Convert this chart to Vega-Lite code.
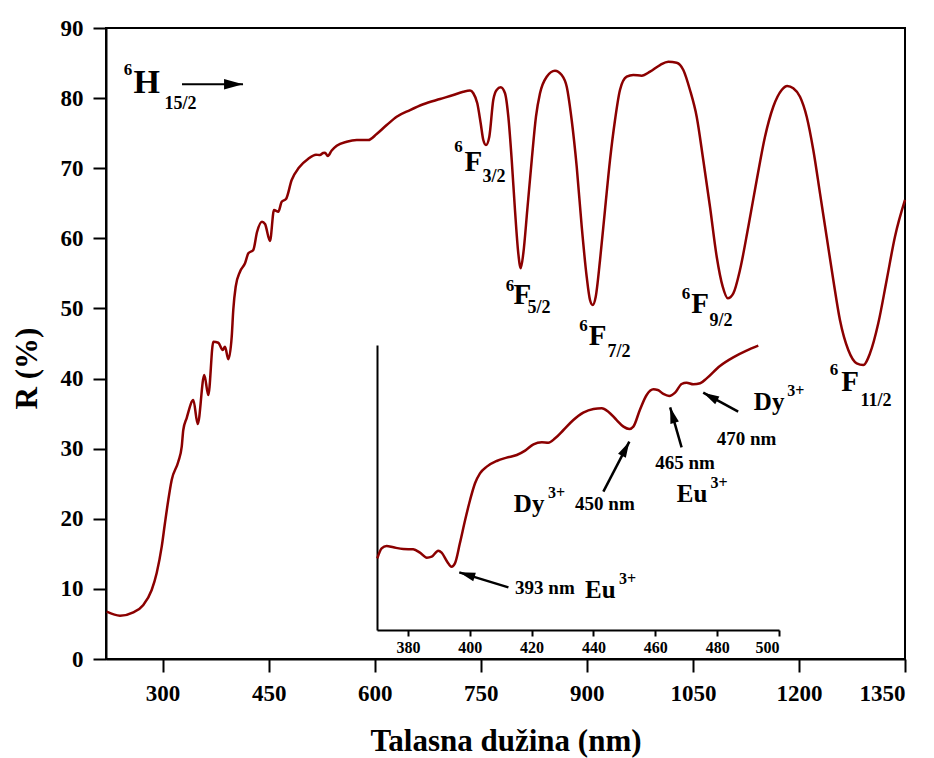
{
  "$schema": "https://vega.github.io/schema/vega-lite/v6.json",
  "width": 799,
  "height": 631,
  "autosize": {"type": "none"},
  "padding": {"left": 106, "top": 28, "right": 29, "bottom": 99},
  "background": "white",
  "config": {
    "font": "'Liberation Serif', 'Times New Roman', serif",
    "view": {"stroke": "black", "strokeWidth": 2},
    "axis": {
      "grid": false,
      "domainColor": "black",
      "domainWidth": 2,
      "tickColor": "black",
      "tickWidth": 2,
      "labelColor": "black",
      "labelFont": "'Liberation Serif', 'Times New Roman', serif",
      "labelFontWeight": "bold",
      "titleFont": "'Liberation Serif', 'Times New Roman', serif",
      "titleFontWeight": "bold",
      "titleColor": "black",
      "format": "d"
    },
    "text": {"font": "'Liberation Serif', 'Times New Roman', serif", "fontWeight": "bold", "color": "black", "align": "center", "baseline": "middle"}
  },
  "datasets": {
    "spectrum": [
      {"wl": 221.0, "r": 6.75}, {"wl": 239.8, "r": 6.18}, {"wl": 258.6, "r": 6.66}, {"wl": 272.8, "r": 7.70},
      {"wl": 284.6, "r": 9.84}, {"wl": 291.7, "r": 12.27}, {"wl": 298.8, "r": 16.02}, {"wl": 303.4, "r": 19.40},
      {"wl": 308.1, "r": 22.68}, {"wl": 312.9, "r": 25.53}, {"wl": 322.2, "r": 28.14}, {"wl": 327.1, "r": 30.28},
      {"wl": 329.3, "r": 32.66}, {"wl": 334.1, "r": 34.37}, {"wl": 343.5, "r": 36.94}, {"wl": 349.7, "r": 33.52},
      {"wl": 359.0, "r": 40.51}, {"wl": 364.7, "r": 37.65}, {"wl": 371.8, "r": 45.26}, {"wl": 378.8, "r": 45.11},
      {"wl": 385.0, "r": 44.07}, {"wl": 388.3, "r": 44.54}, {"wl": 393.0, "r": 42.75}, {"wl": 397.8, "r": 45.97},
      {"wl": 400.0, "r": 49.78}, {"wl": 403.4, "r": 53.10}, {"wl": 409.5, "r": 55.24}, {"wl": 416.6, "r": 56.44},
      {"wl": 421.3, "r": 57.86}, {"wl": 428.3, "r": 58.34}, {"wl": 433.6, "r": 60.90}, {"wl": 440.6, "r": 62.37},
      {"wl": 444.9, "r": 62.04}, {"wl": 451.9, "r": 59.62}, {"wl": 457.6, "r": 64.04}, {"wl": 463.7, "r": 63.80},
      {"wl": 468.5, "r": 65.22}, {"wl": 474.6, "r": 65.61}, {"wl": 482.6, "r": 68.32}, {"wl": 493.0, "r": 70.10},
      {"wl": 505.7, "r": 71.31}, {"wl": 517.0, "r": 71.93}, {"wl": 522.6, "r": 71.88}, {"wl": 526.9, "r": 72.17},
      {"wl": 529.7, "r": 72.21}, {"wl": 533.7, "r": 71.74}, {"wl": 539.2, "r": 72.53}, {"wl": 546.3, "r": 73.21},
      {"wl": 560.4, "r": 73.78}, {"wl": 574.6, "r": 74.02}, {"wl": 591.0, "r": 74.02}, {"wl": 602.8, "r": 74.88},
      {"wl": 617.0, "r": 76.16}, {"wl": 631.1, "r": 77.35}, {"wl": 650.0, "r": 78.30}, {"wl": 668.7, "r": 79.12},
      {"wl": 692.4, "r": 79.87}, {"wl": 711.2, "r": 80.44}, {"wl": 725.3, "r": 80.91}, {"wl": 734.8, "r": 81.08},
      {"wl": 739.5, "r": 80.69}, {"wl": 745.1, "r": 79.26}, {"wl": 749.9, "r": 76.41}, {"wl": 753.6, "r": 74.02},
      {"wl": 757.4, "r": 73.31}, {"wl": 762.1, "r": 74.50}, {"wl": 767.7, "r": 79.73}, {"wl": 772.5, "r": 81.16},
      {"wl": 778.2, "r": 81.54}, {"wl": 784.3, "r": 80.69}, {"wl": 789.0, "r": 77.35}, {"wl": 793.8, "r": 71.17},
      {"wl": 798.4, "r": 64.04}, {"wl": 803.1, "r": 57.86}, {"wl": 806.5, "r": 55.73}, {"wl": 810.2, "r": 57.86},
      {"wl": 815.8, "r": 64.04}, {"wl": 822.1, "r": 71.17}, {"wl": 828.1, "r": 77.35}, {"wl": 833.8, "r": 80.69},
      {"wl": 843.3, "r": 83.05}, {"wl": 855.0, "r": 83.91}, {"wl": 864.5, "r": 83.30}, {"wl": 871.6, "r": 81.63},
      {"wl": 878.6, "r": 76.88}, {"wl": 885.7, "r": 70.22}, {"wl": 892.8, "r": 61.66}, {"wl": 899.8, "r": 54.53},
      {"wl": 904.5, "r": 51.20}, {"wl": 908.3, "r": 50.49}, {"wl": 912.6, "r": 51.68}, {"wl": 918.7, "r": 56.91},
      {"wl": 925.7, "r": 64.04}, {"wl": 932.8, "r": 71.17}, {"wl": 939.9, "r": 76.88}, {"wl": 946.9, "r": 81.16},
      {"wl": 956.4, "r": 83.05}, {"wl": 965.7, "r": 83.30}, {"wl": 977.6, "r": 83.20}, {"wl": 989.4, "r": 83.77},
      {"wl": 1003.5, "r": 84.72}, {"wl": 1015.2, "r": 85.19}, {"wl": 1027.1, "r": 85.05}, {"wl": 1036.5, "r": 84.01},
      {"wl": 1045.9, "r": 81.16}, {"wl": 1055.4, "r": 77.35}, {"wl": 1064.7, "r": 71.17}, {"wl": 1074.2, "r": 64.51},
      {"wl": 1083.7, "r": 57.38}, {"wl": 1092.2, "r": 53.10}, {"wl": 1099.3, "r": 51.45}, {"wl": 1107.2, "r": 52.16},
      {"wl": 1116.6, "r": 55.48}, {"wl": 1128.4, "r": 61.66}, {"wl": 1140.3, "r": 68.32}, {"wl": 1152.0, "r": 74.50},
      {"wl": 1163.7, "r": 78.77}, {"wl": 1175.6, "r": 81.16}, {"wl": 1183.5, "r": 81.73}, {"wl": 1192.0, "r": 81.40},
      {"wl": 1201.5, "r": 80.20}, {"wl": 1211.0, "r": 77.35}, {"wl": 1220.3, "r": 72.60}, {"wl": 1229.8, "r": 66.42},
      {"wl": 1239.2, "r": 60.23}, {"wl": 1248.6, "r": 54.06}, {"wl": 1258.0, "r": 48.35}, {"wl": 1269.8, "r": 44.07},
      {"wl": 1281.7, "r": 42.17}, {"wl": 1291.0, "r": 41.93}, {"wl": 1300.5, "r": 43.60}, {"wl": 1312.2, "r": 47.88},
      {"wl": 1324.1, "r": 54.06}, {"wl": 1335.8, "r": 60.23}, {"wl": 1350.0, "r": 65.47}
    ],
    "levelLabels": [
      {"label": "6", "wl": 251.1, "r": 84.0, "role": "sup"},
      {"label": "H", "wl": 277.6, "r": 82.1, "role": "big"},
      {"label": "15/2", "wl": 325.4, "r": 79.2, "role": "sub"},
      {"label": "6", "wl": 718.5, "r": 72.96, "role": "sup"},
      {"label": "F", "wl": 739.7, "r": 70.82, "role": "base"},
      {"label": "3/2", "wl": 768.7, "r": 68.68, "role": "sub"},
      {"label": "6", "wl": 791.4, "r": 53.2, "role": "sup"},
      {"label": "F", "wl": 809.0, "r": 51.92, "role": "base"},
      {"label": "5/2", "wl": 832.4, "r": 50.06, "role": "sub"},
      {"label": "6", "wl": 895.3, "r": 47.5, "role": "sup"},
      {"label": "F", "wl": 915.1, "r": 46.07, "role": "base"},
      {"label": "7/2", "wl": 945.5, "r": 43.72, "role": "sub"},
      {"label": "6", "wl": 1040.3, "r": 52.06, "role": "sup"},
      {"label": "F", "wl": 1060.2, "r": 50.63, "role": "base"},
      {"label": "9/2", "wl": 1089.9, "r": 48.21, "role": "sub"},
      {"label": "6", "wl": 1249.6, "r": 41.22, "role": "sup"},
      {"label": "F", "wl": 1272.2, "r": 39.44, "role": "base"},
      {"label": "11/2", "wl": 1309.0, "r": 36.8, "role": "sub"}
    ],
    "mainArrow": [
      {"id": "h152", "wl": 413.8, "r": 81.97, "wl2": 327.5, "r2": 81.97}
    ],
    "insetSpectrum": [
      {"wl": 370.1, "r": 43.55}, {"wl": 371.5, "r": 44.74}, {"wl": 373.1, "r": 45.02}, {"wl": 375.3, "r": 44.86},
      {"wl": 378.5, "r": 44.66}, {"wl": 381.7, "r": 44.62}, {"wl": 383.9, "r": 44.23}, {"wl": 386.1, "r": 43.63},
      {"wl": 387.7, "r": 43.75}, {"wl": 389.8, "r": 44.46}, {"wl": 390.9, "r": 44.23}, {"wl": 392.7, "r": 43.15},
      {"wl": 394.1, "r": 42.56}, {"wl": 395.2, "r": 42.95}, {"wl": 396.8, "r": 45.34}, {"wl": 398.5, "r": 48.12},
      {"wl": 400.1, "r": 50.51}, {"wl": 401.7, "r": 52.50}, {"wl": 403.3, "r": 53.69}, {"wl": 405.5, "r": 54.49},
      {"wl": 408.7, "r": 55.16}, {"wl": 411.9, "r": 55.56}, {"wl": 415.2, "r": 55.88}, {"wl": 417.9, "r": 56.40},
      {"wl": 420.6, "r": 57.15}, {"wl": 423.3, "r": 57.39}, {"wl": 425.4, "r": 57.35}, {"wl": 427.6, "r": 57.87},
      {"wl": 430.3, "r": 58.86}, {"wl": 433.5, "r": 60.05}, {"wl": 436.7, "r": 60.93}, {"wl": 440.0, "r": 61.37},
      {"wl": 442.7, "r": 61.45}, {"wl": 444.8, "r": 61.05}, {"wl": 447.5, "r": 60.05}, {"wl": 449.7, "r": 59.26},
      {"wl": 451.6, "r": 58.98}, {"wl": 452.9, "r": 59.26}, {"wl": 455.0, "r": 61.25}, {"wl": 457.2, "r": 63.04},
      {"wl": 459.4, "r": 63.71}, {"wl": 460.8, "r": 63.63}, {"wl": 462.6, "r": 63.16}, {"wl": 464.5, "r": 62.92},
      {"wl": 466.4, "r": 63.32}, {"wl": 468.5, "r": 64.35}, {"wl": 470.1, "r": 64.51}, {"wl": 472.3, "r": 64.31},
      {"wl": 474.5, "r": 64.43}, {"wl": 476.6, "r": 65.02}, {"wl": 480.9, "r": 66.50}, {"wl": 485.2, "r": 67.53},
      {"wl": 489.5, "r": 68.33}, {"wl": 493.3, "r": 68.92}
    ],
    "insetLabels": [
      {"label": "393 nm", "wl": 424.3, "r": 39.97, "role": "nm"},
      {"label": "Eu", "wl": 442.2, "r": 39.73, "role": "ion"},
      {"label": "3+", "wl": 451.0, "r": 41.04, "role": "charge"},
      {"label": "Dy", "wl": 419.2, "r": 50.03, "role": "ion"},
      {"label": "3+", "wl": 428.1, "r": 51.38, "role": "charge"},
      {"label": "450 nm", "wl": 443.7, "r": 50.07, "role": "nm"},
      {"label": "465 nm", "wl": 469.6, "r": 54.88, "role": "nm"},
      {"label": "Eu", "wl": 471.9, "r": 51.19, "role": "ion"},
      {"label": "3+", "wl": 480.6, "r": 52.58, "role": "charge"},
      {"label": "Dy", "wl": 496.8, "r": 62.24, "role": "ion"},
      {"label": "3+", "wl": 505.4, "r": 63.51, "role": "charge"},
      {"label": "470 nm", "wl": 489.5, "r": 57.79, "role": "nm"}
    ],
    "insetArrows": [
      {"id": "eu393", "wl": 396.6, "r": 41.88, "wl2": 412.5, "r2": 40.09},
      {"id": "dy450", "wl": 451.6, "r": 57.47, "wl2": 443.2, "r2": 51.50},
      {"id": "eu465", "wl": 464.8, "r": 61.56, "wl2": 468.5, "r2": 56.79},
      {"id": "dy470", "wl": 475.5, "r": 63.31, "wl2": 486.8, "r2": 61.05}
    ]
  },
  "layer": [
    {
      "encoding": {
        "x": {
          "field": "wl", "type": "quantitative",
          "scale": {"domain": [220, 1350], "nice": false, "zero": false},
          "axis": {
            "orient": "bottom",
            "values": [300, 450, 600, 750, 900, 1050, 1200, 1350],
            "tickSize": 13, "labelFontSize": 23, "labelPadding": 10,
            "title": "Talasna dužina (nm)", "titleFontSize": 31,
            "titleBaseline": "alphabetic", "titleY": 91
          }
        },
        "y": {
          "field": "r", "type": "quantitative",
          "scale": {"domain": [0, 90], "nice": false, "zero": false},
          "axis": {
            "orient": "left",
            "values": [0, 10, 20, 30, 40, 50, 60, 70, 80, 90],
            "tickSize": 13, "labelFontSize": 23, "labelPadding": 10,
            "title": "R (%)", "titleFontSize": 31, "titleAngle": -90,
            "titleX": -79, "titleY": 340, "titleAlign": "center", "titleBaseline": "middle"
          }
        }
      },
      "layer": [
        {
          "data": {"name": "spectrum"},
          "mark": {"type": "line", "color": "#8B0000", "strokeWidth": 2.5, "interpolate": "monotone"}
        },
        {
          "data": {"name": "levelLabels"},
          "transform": [{"filter": "datum.role == 'sup'"}],
          "mark": {"type": "text", "fontSize": 17},
          "encoding": {"text": {"field": "label"}}
        },
        {
          "data": {"name": "levelLabels"},
          "transform": [{"filter": "datum.role == 'base'"}],
          "mark": {"type": "text", "fontSize": 29},
          "encoding": {"text": {"field": "label"}}
        },
        {
          "data": {"name": "levelLabels"},
          "transform": [{"filter": "datum.role == 'big'"}],
          "mark": {"type": "text", "fontSize": 34},
          "encoding": {"text": {"field": "label"}}
        },
        {
          "data": {"name": "levelLabels"},
          "transform": [{"filter": "datum.role == 'sub'"}],
          "mark": {"type": "text", "fontSize": 18},
          "encoding": {"text": {"field": "label"}}
        },
        {
          "data": {"name": "mainArrow"},
          "mark": {"type": "rule", "color": "black", "strokeWidth": 2},
          "encoding": {"x2": {"field": "wl2"}, "y2": {"field": "r2"}}
        },
        {
          "data": {"name": "mainArrow"},
          "mark": {"type": "point", "shape": "M0,0L-2,-0.55L-2,0.55Z", "filled": true, "opacity": 1, "color": "black", "strokeWidth": 0, "size": 361, "angle": 0}
        }
      ]
    },
    {
      "encoding": {
        "x": {
          "field": "wl", "type": "quantitative",
          "scale": {"domain": [370, 500], "range": [271, 673], "nice": false, "zero": false},
          "axis": {
            "orient": "bottom", "offset": -29,
            "values": [380, 400, 420, 440, 460, 480, 500],
            "tickSize": 6, "labelFontSize": 16, "labelPadding": 3, "title": null
          }
        },
        "y": {
          "field": "r", "type": "quantitative",
          "scale": {"domain": [35, 69], "range": [602, 317], "nice": false, "zero": false},
          "axis": {"orient": "left", "offset": -271, "ticks": false, "labels": false, "title": null}
        }
      },
      "layer": [
        {
          "data": {"name": "insetSpectrum"},
          "mark": {"type": "line", "color": "#8B0000", "strokeWidth": 2.5, "interpolate": "monotone"}
        },
        {
          "data": {"name": "insetLabels"},
          "transform": [{"filter": "datum.role == 'nm'"}],
          "mark": {"type": "text", "fontSize": 19},
          "encoding": {"text": {"field": "label"}}
        },
        {
          "data": {"name": "insetLabels"},
          "transform": [{"filter": "datum.role == 'ion'"}],
          "mark": {"type": "text", "fontSize": 25},
          "encoding": {"text": {"field": "label"}}
        },
        {
          "data": {"name": "insetLabels"},
          "transform": [{"filter": "datum.role == 'charge'"}],
          "mark": {"type": "text", "fontSize": 16},
          "encoding": {"text": {"field": "label"}}
        },
        {
          "data": {"name": "insetArrows"},
          "mark": {"type": "rule", "color": "black", "strokeWidth": 2.5},
          "encoding": {"x2": {"field": "wl2"}, "y2": {"field": "r2"}}
        },
        {
          "data": {"name": "insetArrows"},
          "transform": [{"filter": "datum.id == 'eu393'"}],
          "mark": {"type": "point", "shape": "M0,0L-2,-0.55L-2,0.55Z", "filled": true, "opacity": 1, "color": "black", "strokeWidth": 0, "size": 256, "angle": 197}
        },
        {
          "data": {"name": "insetArrows"},
          "transform": [{"filter": "datum.id == 'dy450'"}],
          "mark": {"type": "point", "shape": "M0,0L-2,-0.55L-2,0.55Z", "filled": true, "opacity": 1, "color": "black", "strokeWidth": 0, "size": 256, "angle": 297.5}
        },
        {
          "data": {"name": "insetArrows"},
          "transform": [{"filter": "datum.id == 'eu465'"}],
          "mark": {"type": "point", "shape": "M0,0L-2,-0.55L-2,0.55Z", "filled": true, "opacity": 1, "color": "black", "strokeWidth": 0, "size": 256, "angle": 253.7}
        },
        {
          "data": {"name": "insetArrows"},
          "transform": [{"filter": "datum.id == 'dy470'"}],
          "mark": {"type": "point", "shape": "M0,0L-2,-0.55L-2,0.55Z", "filled": true, "opacity": 1, "color": "black", "strokeWidth": 0, "size": 256, "angle": 208.5}
        }
      ]
    }
  ],
  "resolve": {
    "scale": {"x": "independent", "y": "independent"},
    "axis": {"x": "independent", "y": "independent"}
  }
}
